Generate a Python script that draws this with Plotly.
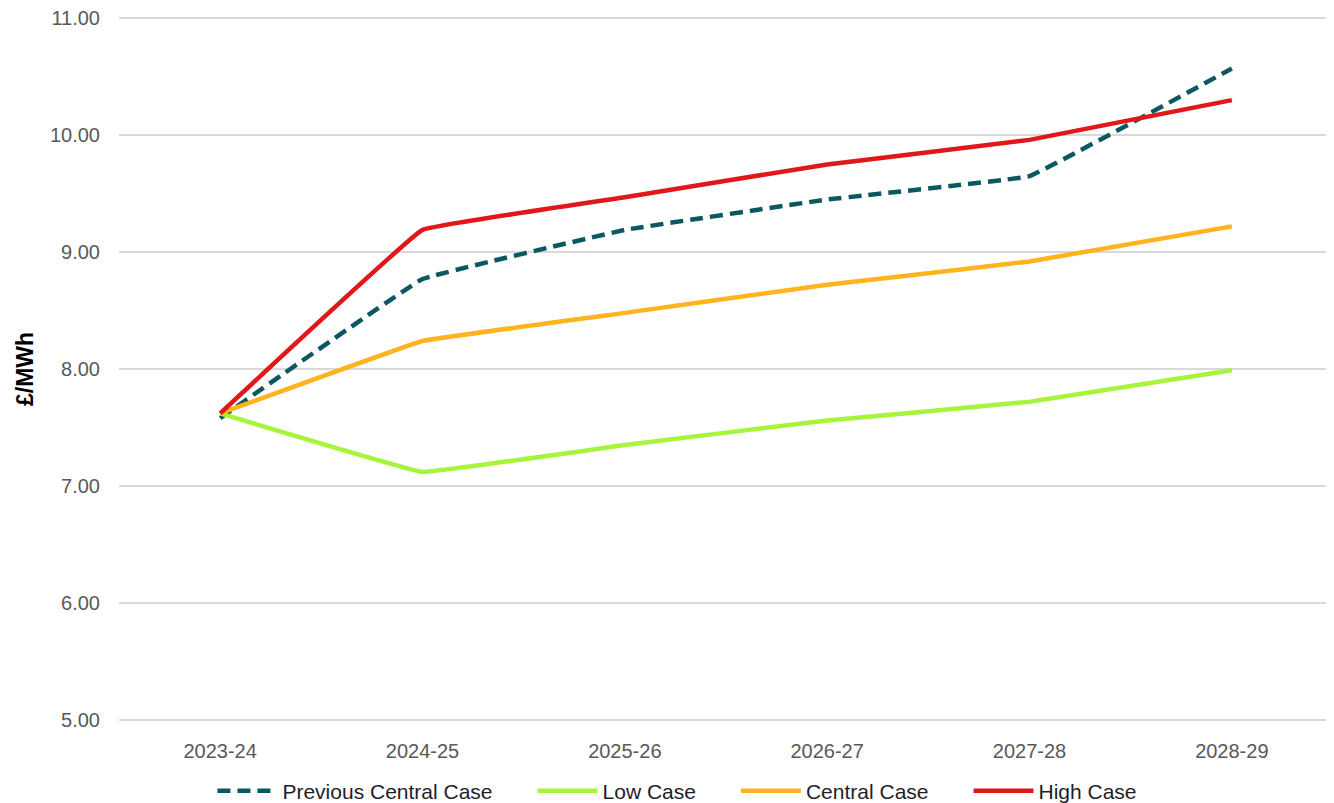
import plotly.graph_objects as go

years = ["2023-24", "2024-25", "2025-26", "2026-27", "2027-28", "2028-29"]

previous_central = [7.58, 8.77, 9.19, 9.45, 9.65, 10.57]
low_case = [7.62, 7.12, 7.35, 7.56, 7.72, 7.99]
central_case = [7.62, 8.24, 8.48, 8.72, 8.92, 9.22]
high_case = [7.62, 9.19, 9.47, 9.75, 9.96, 10.30]

pad = "\u00a0" * 6  # extra space after each legend label, like the original

fig = go.Figure()

fig.add_trace(go.Scatter(x=years, y=previous_central, name="Previous Central Case" + pad, mode="lines",
                         line=dict(color="#0b5860", width=4.5, dash="13px,7px", shape="spline", smoothing=0.15)))
fig.add_trace(go.Scatter(x=years, y=low_case, name="Low Case" + pad, mode="lines",
                         line=dict(color="#a6f53c", width=4.5, shape="spline", smoothing=0.15)))
fig.add_trace(go.Scatter(x=years, y=central_case, name="Central Case" + pad, mode="lines",
                         line=dict(color="#ffb31f", width=4.5, shape="spline", smoothing=0.15)))
fig.add_trace(go.Scatter(x=years, y=high_case, name="High Case", mode="lines",
                         line=dict(color="#e0181a", width=4.5, shape="spline", smoothing=0.15)))

# page has an 8px body margin, so the figure is sized/offset to match
fig.update_layout(
    width=1326, height=795,
    margin=dict(l=111, r=1, t=8, b=81, autoexpand=False),
    plot_bgcolor="white", paper_bgcolor="white",
    font=dict(family="Liberation Sans, Arial", size=20, color="#595959"),
    showlegend=True,
    legend=dict(orientation="h", x=0.46, xanchor="center", y=-0.069, yanchor="top",
                font=dict(size=21, color="#1e1e2a"), itemwidth=60, traceorder="normal"),
)
fig.update_xaxes(range=[-0.5, 5.5], showgrid=False, showline=False, zeroline=False,
                 ticks="", ticklabelstandoff=15, automargin=False)
fig.update_yaxes(range=[4.98, 11.02], tickvals=[5, 6, 7, 8, 9, 10, 11], tickformat=".2f",
                 showgrid=True, gridcolor="#d9d9d9", ticklabeloverflow="allow",
                 gridwidth=2, zeroline=False, showline=False, ticks="", ticklabelstandoff=18,
                 automargin=False,
                 title=dict(text="<b>£/MWh</b>", font=dict(size=23, color="#000000"), standoff=9))

fig.write_html("out.html")
